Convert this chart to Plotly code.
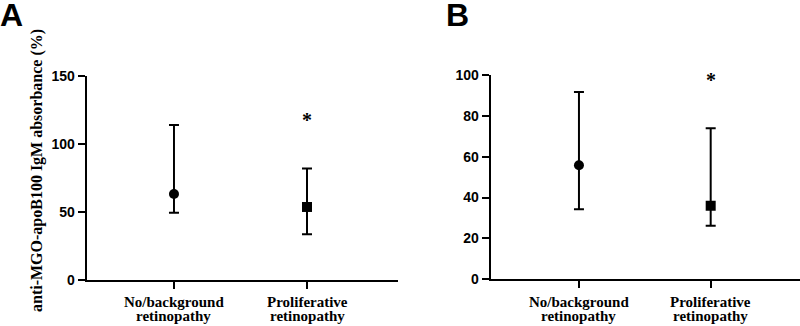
import plotly.graph_objects as go

cat_line1 = ["No/background", "Proliferative"]
cat_line2 = ["retinopathy", "retinopathy"]
cat_pos = [0, 1]

# Panel A: anti-MGO-apoB100 IgM absorbance (%)
a_center = [63.2, 53.7]
a_upper = [114.0, 82.0]
a_lower = [49.5, 33.6]
a_star = 118

# Panel B
b_center = [55.8, 36.0]
b_upper = [91.7, 73.9]
b_lower = [34.3, 26.2]
b_star = 97.5

a_ticks = [0, 50, 100, 150]
b_ticks = [0, 20, 40, 60, 80, 100]

W, H = 800, 326
def px(x):
    return x / W
def py(y):
    return (H - y) / H

fig = go.Figure()

symbols = ["circle", "square"]
msize = [10, 10]

for i in range(2):
    fig.add_trace(go.Scatter(
        x=[cat_pos[i]], y=[a_center[i]], mode="markers",
        marker=dict(symbol=symbols[i], size=msize[i], color="black"),
        error_y=dict(type="data", symmetric=False,
                     array=[a_upper[i] - a_center[i]],
                     arrayminus=[a_center[i] - a_lower[i]],
                     color="black", thickness=2, width=5),
        xaxis="x", yaxis="y", showlegend=False, cliponaxis=False))
    fig.add_trace(go.Scatter(
        x=[cat_pos[i]], y=[b_center[i]], mode="markers",
        marker=dict(symbol=symbols[i], size=msize[i], color="black"),
        error_y=dict(type="data", symmetric=False,
                     array=[b_upper[i] - b_center[i]],
                     arrayminus=[b_center[i] - b_lower[i]],
                     color="black", thickness=2, width=5),
        xaxis="x2", yaxis="y2", showlegend=False, cliponaxis=False))

tickfont_num = dict(family="Liberation Sans, Arial", size=14, color="black", weight="bold")
cat_font = dict(family="Liberation Serif, Times New Roman", size=15, color="black", weight="bold")

common_x = dict(showgrid=False, zeroline=False, showline=True, linecolor="black", linewidth=2,
                ticks="outside", ticklen=7, tickwidth=2, tickcolor="black", automargin=False,
                tickvals=cat_pos, showticklabels=False, fixedrange=True)
common_y = dict(showgrid=False, zeroline=False, showline=True, linecolor="black", linewidth=2,
                ticks="outside", ticklen=7, tickwidth=2, tickcolor="black", automargin=False,
                tickfont=tickfont_num, fixedrange=True)

fig.update_layout(
    width=W, height=H,
    margin=dict(l=0, r=0, t=0, b=0),
    paper_bgcolor="white", plot_bgcolor="white",
    xaxis=dict(domain=[px(86.7), px(398)], range=[-0.656, 1.684], anchor="y", **common_x),
    yaxis=dict(domain=[py(280), py(76)], range=[0, 150], tickvals=a_ticks, anchor="x", **common_y),
    xaxis2=dict(domain=[px(490.7), 1.0], range=[-0.670, 1.678], anchor="y2", **common_x),
    yaxis2=dict(domain=[py(279.3), py(75)], range=[0, 100], tickvals=b_ticks, anchor="x2", **common_y),
)

# category labels (two lines, tight spacing)
for xr in ["x", "x2"]:
    for i in range(2):
        fig.add_annotation(x=cat_pos[i], y=py(301.5), xref=xr, yref="paper", text=cat_line1[i],
                           showarrow=False, font=cat_font, xanchor="center", yanchor="middle")
        fig.add_annotation(x=cat_pos[i], y=py(315.5), xref=xr, yref="paper", text=cat_line2[i],
                           showarrow=False, font=cat_font, xanchor="center", yanchor="middle")

star_font = dict(family="Liberation Serif, Times New Roman", size=20, color="black", weight="bold")
fig.add_annotation(x=1, y=a_star, xref="x", yref="y", text="*", showarrow=False,
                   font=star_font, xanchor="center", yanchor="middle")
fig.add_annotation(x=1, y=b_star, xref="x2", yref="y2", text="*", showarrow=False,
                   font=star_font, xanchor="center", yanchor="middle")

fig.add_annotation(x=px(37), y=py(171), xref="paper", yref="paper",
                   text="anti-MGO-apoB100 IgM absorbance (%)", textangle=-90, showarrow=False,
                   font=dict(family="Liberation Serif, Times New Roman", size=16, color="black", weight="bold"),
                   xanchor="center", yanchor="middle")

panel_font = dict(family="Liberation Sans, Arial", size=32, color="black", weight="bold")
fig.add_annotation(x=px(-2), y=py(-5), xref="paper", yref="paper", text="A", showarrow=False,
                   font=panel_font, xanchor="left", yanchor="top")
fig.add_annotation(x=px(444), y=py(-5), xref="paper", yref="paper", text="B", showarrow=False,
                   font=panel_font, xanchor="left", yanchor="top")

fig.write_html("out.html", config={"displayModeBar": False},
               post_script="document.body.style.margin='0';document.body.style.overflow='hidden';")
